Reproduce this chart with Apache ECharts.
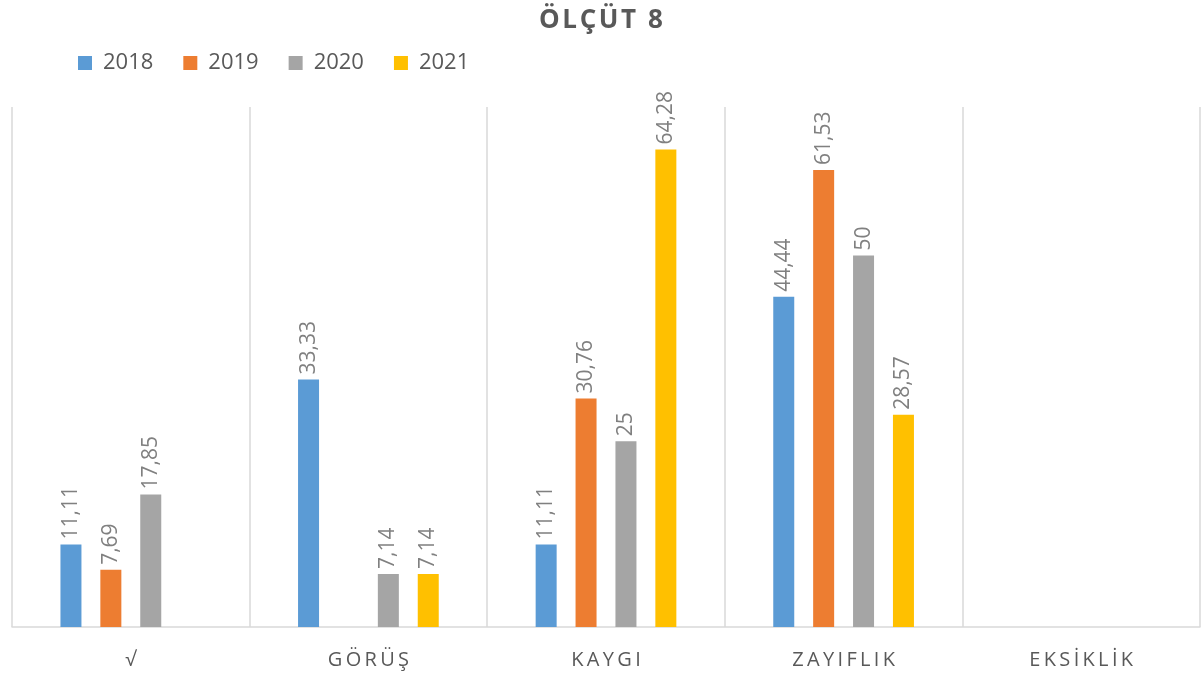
<!DOCTYPE html>
<html>
<head>
<meta charset="utf-8">
<script src="https://cdn.jsdelivr.net/npm/echarts@6/dist/echarts.min.js"></script>
<style>
  html, body { margin: 0; padding: 0; background: #fff; }
  #main { width: 1202px; height: 686px; }
</style>
</head>
<body>
<div id="main"></div>
<script>
// data
var categories = ['√', 'GÖRÜŞ', 'KAYGI', 'ZAYIFLIK', 'EKSİKLİK'];
var years = ['2018', '2019', '2020', '2021'];
var v2018 = [11.11, 33.33, 11.11, 44.44, null];
var v2019 = [7.69, null, 30.76, 61.53, null];
var v2020 = [17.85, 7.14, 25, 50, null];
var v2021 = [null, 7.14, 64.28, 28.57, null];
var colors = ['#5b9bd5', '#ed7d31', '#a5a5a5', '#ffc000'];

var myChart = echarts.init(document.getElementById('main'));

function spaced(s, sep) {
  return s.split('').join(sep);
}

function makeSeries(name, data, i) {
  return {
    name: name,
    type: 'bar',
    data: data,
    barWidth: 21,
    barGap: '90%',
    itemStyle: { color: colors[i] },
    label: {
      show: true,
      position: 'top',
      rotate: 90,
      align: 'left',
      verticalAlign: 'middle',
      distance: 5,
      color: '#808080',
      fontSize: 21,
      fontFamily: 'Open Sans',
      formatter: function (p) {
        return String(p.value).replace('.', ',');
      }
    }
  };
}

var option = {
  animation: false,
  title: {
    text: spaced('ÖLÇÜT 8', '\u200a'),
    left: 'center',
    top: 3,
    textStyle: { color: '#595959', fontSize: 26, fontWeight: 'bold', fontFamily: 'Open Sans' }
  },
  legend: {
    data: years,
    left: 73,
    top: 47,
    icon: 'rect',
    itemWidth: 14,
    itemHeight: 14,
    itemGap: 30,
    formatter: function (n) { return '{a|' + n + '}'; },
    textStyle: {
      color: '#595959',
      fontSize: 22,
      fontFamily: 'Open Sans',
      rich: { a: { fontSize: 22, color: '#595959', fontFamily: 'Open Sans', padding: [0, 0, 0, 6] } }
    }
  },
  grid: { left: 12, right: 2, top: 107, bottom: 59 },
  xAxis: {
    type: 'category',
    data: categories,
    axisLine: { lineStyle: { color: '#d9d9d9', width: 1.5 } },
    axisTick: { show: false },
    splitLine: { show: true, lineStyle: { color: '#d9d9d9', width: 1.5 } },
    axisLabel: {
      color: '#595959',
      fontSize: 20,
      fontFamily: 'Open Sans',
      margin: 23,
      formatter: function (v) { return spaced(v, '\u2009'); }
    }
  },
  yAxis: {
    type: 'value',
    min: 0,
    max: 70,
    show: false,
    splitLine: { show: false }
  },
  series: [
    makeSeries('2018', v2018, 0),
    makeSeries('2019', v2019, 1),
    makeSeries('2020', v2020, 2),
    makeSeries('2021', v2021, 3)
  ]
};

myChart.setOption(option);
</script>
</body>
</html>
